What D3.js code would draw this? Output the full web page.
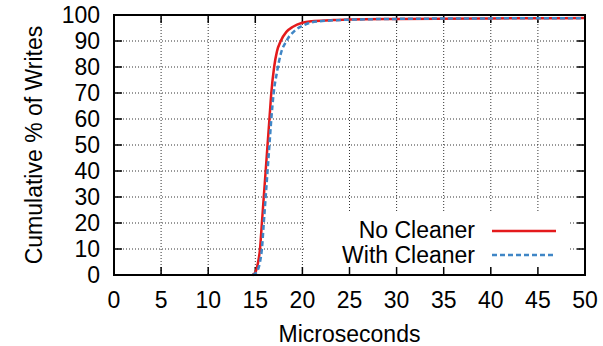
<!DOCTYPE html>
<html><head><meta charset="utf-8">
<script src="https://cdn.jsdelivr.net/npm/d3@7"></script>
<style>
body{margin:0;background:#fff;}
text{font-family:"Liberation Sans",Arial,sans-serif;fill:#000;}
</style></head>
<body><svg id="c" width="603" height="346"></svg>
<script>
const xTicks = [0,5,10,15,20,25,30,35,40,45,50];
const yTicks = [0,10,20,30,40,50,60,70,80,90,100];
const seriesNames = ["No Cleaner","With Cleaner"];
const noCleanerX = [14.7,15.0,15.3,15.5,15.7,15.9,16.1,16.3,16.5,16.7,17.0,17.3,17.7,18.3,19.0,20.0,21.0,23.0,25.0,30.0,40.0,50.0];
const noCleanerY = [0,1,5,10,20,30,40,50,60,70,80,86,90,93.5,95.5,97,97.6,98,98.3,98.5,98.7,98.8];
const withCleanerX = [14.7,15.1,15.5,15.7,15.9,16.1,16.3,16.5,16.7,16.95,17.3,17.7,18.3,19.2,20.1,21.0,23.0,25.0,30.0,40.0,50.0];
const withCleanerY = [0,1,5,10,20,30,40,50,60,70,78,85,90,94,96,97.2,97.9,98.2,98.5,98.7,98.8];

const svg = d3.select("#c");
const L=114, R=585, T=15, B=275;
const x = d3.scaleLinear().domain([0,50]).range([L,R]);
const y = d3.scaleLinear().domain([0,100]).range([B,T]);
const FS = "23px";

// grid
const g = svg.append("g");
g.selectAll("line.vg").data(xTicks.slice(1,-1)).join("line")
  .attr("x1",d=>x(d)).attr("x2",d=>x(d)).attr("y1",T).attr("y2",B)
  .attr("stroke","#333").attr("stroke-width",1).attr("stroke-dasharray","1,2");
g.selectAll("line.hg").data(yTicks.slice(1,-1)).join("line")
  .attr("y1",d=>y(d)).attr("y2",d=>y(d)).attr("x1",L).attr("x2",R)
  .attr("stroke","#333").attr("stroke-width",1).attr("stroke-dasharray","1,2");

// legend background
svg.append("rect").attr("x",305).attr("y",213).attr("width",265).attr("height",B-213).attr("fill","#fff");

// ticks inward
const tl=8;
const tk = svg.append("g").attr("stroke","#000").attr("stroke-width",1.5);
xTicks.forEach(d=>{
  tk.append("line").attr("x1",x(d)).attr("x2",x(d)).attr("y1",B).attr("y2",B-tl);
  tk.append("line").attr("x1",x(d)).attr("x2",x(d)).attr("y1",T).attr("y2",T+tl);
});
yTicks.forEach(d=>{
  tk.append("line").attr("y1",y(d)).attr("y2",y(d)).attr("x1",L).attr("x2",L+tl);
  tk.append("line").attr("y1",y(d)).attr("y2",y(d)).attr("x1",R).attr("x2",R-tl);
});

// tick labels
svg.append("g").selectAll("text").data(xTicks).join("text")
  .attr("x",d=>x(d)).attr("y",307.5).attr("text-anchor","middle").style("font-size",FS).text(d=>d);
svg.append("g").selectAll("text").data(yTicks).join("text")
  .attr("x",100).attr("y",d=>y(d)+8).attr("text-anchor","end").style("font-size",FS).text(d=>d);

// axis titles
svg.append("text").attr("x",(L+R)/2).attr("y",342).attr("text-anchor","middle").style("font-size",FS).text("Microseconds");
svg.append("text").attr("transform","translate(42,145) rotate(-90)").attr("text-anchor","middle").style("font-size",FS).text("Cumulative % of Writes");

// lines
const line = d3.line().x(d=>x(d[0])).y(d=>y(d[1])).curve(d3.curveMonotoneX);
const red = noCleanerX.map((v,i)=>[v,noCleanerY[i]]);
const blue = withCleanerX.map((v,i)=>[v,withCleanerY[i]]);
svg.append("path").datum(red).attr("d",line).attr("fill","none").attr("stroke","#e41a1c").attr("stroke-width",2.5);
svg.append("path").datum(blue).attr("d",line).attr("fill","none").attr("stroke","#3f86c6").attr("stroke-width",2.5).attr("stroke-dasharray","5,3");

// frame
svg.append("rect").attr("x",L).attr("y",T).attr("width",R-L).attr("height",B-T).attr("fill","none").attr("stroke","#000").attr("stroke-width",2);

// legend
const leg = [{n:seriesNames[0],c:"#e41a1c",d:null,ty:238,ly:231},{n:seriesNames[1],c:"#3f86c6",d:"5,3",ty:263,ly:255}];
leg.forEach(l=>{
  svg.append("text").attr("x",475).attr("y",l.ty).attr("text-anchor","end").style("font-size",FS).text(l.n);
  const p = svg.append("line").attr("x1",492).attr("x2",556).attr("y1",l.ly).attr("y2",l.ly).attr("stroke",l.c).attr("stroke-width",2.5);
  if(l.d) p.attr("stroke-dasharray",l.d);
});
</script></body></html>
